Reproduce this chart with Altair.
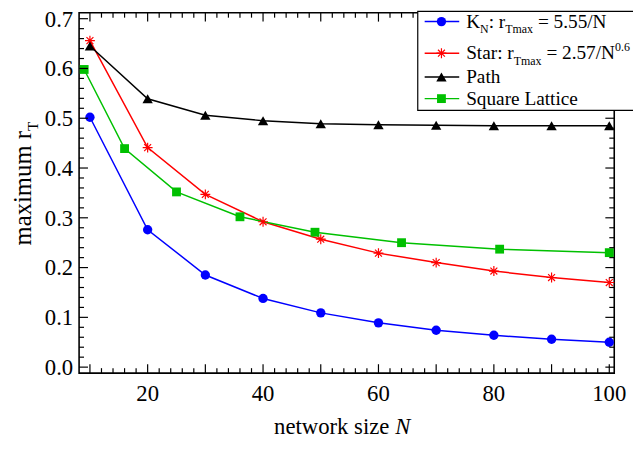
import altair as alt
import pandas as pd

# ---------------- data ----------------
series = ["K_N", "Star", "Path", "Square Lattice"]
colors = ["#0000FF", "#FF0000", "#000000", "#00C000"]

N_kn = [10, 20, 30, 40, 50, 60, 70, 80, 90, 100]
r_kn = [0.502, 0.276, 0.185, 0.138, 0.109, 0.089, 0.074, 0.064, 0.056, 0.050]

N_star = [10, 20, 30, 40, 50, 60, 70, 80, 90, 100]
r_star = [0.656, 0.441, 0.347, 0.292, 0.257, 0.229, 0.210, 0.193, 0.180, 0.170]

N_path = [10, 20, 30, 40, 50, 60, 70, 80, 90, 100]
r_path = [0.645, 0.539, 0.506, 0.495, 0.489, 0.487, 0.486, 0.485, 0.485, 0.485]

N_sq = [9, 16, 25, 36, 49, 64, 81, 100]
r_sq = [0.598, 0.439, 0.352, 0.302, 0.271, 0.250, 0.237, 0.230]

x_label_values = [20, 40, 60, 80, 100]
y_label_values = [0.0, 0.1, 0.2, 0.3, 0.4, 0.5, 0.6, 0.7]

# ---------------- layout ----------------
W, H = 542, 365
FONT = "Liberation Serif"
TICK_FS = 23
TITLE_FS = 23
YTITLE_FS = 25
LEG_FS = 19.5
SUB = 0.62

xs = alt.Scale(domain=[8.12, 100.86], nice=False, zero=False)
ys = alt.Scale(domain=[-0.012, 0.712], nice=False, zero=False)

df = pd.concat([
    pd.DataFrame({"N": N_kn, "r": r_kn, "s": series[0]}),
    pd.DataFrame({"N": N_star, "r": r_star, "s": series[1]}),
    pd.DataFrame({"N": N_path, "r": r_path, "s": series[2]}),
    pd.DataFrame({"N": N_sq, "r": r_sq, "s": series[3]}),
])

cscale = alt.Scale(domain=series, range=colors)

lines = alt.Chart(df).mark_line(strokeWidth=1.5).encode(
    x=alt.X("N:Q", scale=xs, axis=None),
    y=alt.Y("r:Q", scale=ys, axis=None),
    color=alt.Color("s:N", scale=cscale, legend=None),
    detail="s:N",
)

STAR = "M-1,0L1,0M0,-1L0,1M-0.7,-0.7L0.7,0.7M-0.7,0.7L0.7,-0.7"
shape_spec = {
    "K_N": dict(shape="circle", filled=True, size=90),
    "Star": dict(shape=STAR, filled=False, size=100, strokeWidth=1.2),
    "Path": dict(shape="triangle-up", filled=True, size=110),
    "Square Lattice": dict(shape="square", filled=True, size=80),
}

point_layers = []
for s, c in zip(series, colors):
    point_layers.append(
        alt.Chart(df[df.s == s]).mark_point(color=c, opacity=1, **shape_spec[s]).encode(
            x=alt.X("N:Q", scale=xs, axis=None),
            y=alt.Y("r:Q", scale=ys, axis=None),
        )
    )

# ---------------- tick labels ----------------
xl = pd.DataFrame({"v": x_label_values, "t": [str(v) for v in x_label_values]})
x_labels = alt.Chart(xl).mark_text(
    font=FONT, fontSize=TICK_FS, color="black", align="center", baseline="alphabetic"
).encode(x=alt.X("v:Q", scale=xs, axis=None), y=alt.value(H + 28), text="t:N")

yl = pd.DataFrame({"v": y_label_values, "t": [f"{v:.1f}" for v in y_label_values]})
y_labels = alt.Chart(yl).mark_text(
    font=FONT, fontSize=TICK_FS, color="black", align="right", baseline="alphabetic",
    dy=8
).encode(y=alt.Y("v:Q", scale=ys, axis=None), x=alt.value(-6), text="t:N")

# ---------------- inward ticks (mirrored) ----------------
xmaj = list(range(10, 101, 10))
xmin = [v for v in range(10, 101, 2) if v % 10 != 0]
ymaj = [round(v * 0.1, 2) for v in range(0, 8)]
ymin = [round(v * 0.02, 2) for v in range(0, 36) if v % 5 != 0]

MAJ, MIN = 9, 5
tick_layers = []
for vals, ln in ((xmaj, MAJ), (xmin, MIN)):
    d = pd.DataFrame({"v": vals})
    tick_layers.append(alt.Chart(d).mark_rule(color="black", strokeWidth=1.2).encode(
        x=alt.X("v:Q", scale=xs, axis=None), y=alt.value(H), y2=alt.value(H - ln)))
    tick_layers.append(alt.Chart(d).mark_rule(color="black", strokeWidth=1.2).encode(
        x=alt.X("v:Q", scale=xs, axis=None), y=alt.value(0), y2=alt.value(ln)))
for vals, ln in ((ymaj, MAJ), (ymin, MIN)):
    d = pd.DataFrame({"v": vals})
    tick_layers.append(alt.Chart(d).mark_rule(color="black", strokeWidth=1.2).encode(
        y=alt.Y("v:Q", scale=ys, axis=None), x=alt.value(0), x2=alt.value(ln)))
    tick_layers.append(alt.Chart(d).mark_rule(color="black", strokeWidth=1.2).encode(
        y=alt.Y("v:Q", scale=ys, axis=None), x=alt.value(W), x2=alt.value(W - ln)))

# ---------------- text helpers ----------------
TW = {' ': 250, ':': 278, '=': 564, '.': 250, '/': 278, 'K': 722, 'N': 722, 'S': 556,
      'T': 611, 'P': 556, 'L': 611, 'a': 444, 'c': 444, 'e': 444, 'i': 278, 'm': 778,
      'n': 500, 'o': 500, 'p': 500, 'q': 500, 'r': 333, 's': 389, 't': 278, 'u': 500,
      'w': 722, 'x': 500, 'y': 500, 'z': 444, 'k': 500, 'h': 500}


def tw(txt, fs):
    return sum(TW.get(ch, 500) for ch in txt) / 1000.0 * fs


def rich(pieces, x0, y0, fs, angle=0):
    out = []
    pos = 0.0
    sfs = fs * SUB
    for txt, kind in pieces:
        size = sfs if kind in ("sub", "sup") else fs
        shift = fs * 0.28 if kind == "sub" else (-fs * 0.42 if kind == "sup" else 0)
        lead = len(txt) - len(txt.lstrip(" "))
        pos += tw(" " * lead, size)
        body = txt.strip(" ")
        if angle == 0:
            out.append(dict(t=body, x=x0 + pos, y=y0 + shift, fs=size,
                            ital=kind == "ital"))
        else:
            out.append(dict(t=body, x=x0 + shift, y=y0 - pos, fs=size,
                            ital=kind == "ital"))
        w = tw(txt.lstrip(" "), size)
        if kind == "ital" and body == "N":
            w = 0.667 * size
        pos += w
    return out


def text_layer(rows, angle=0):
    d = pd.DataFrame(rows)
    layers = []
    for ital in (False, True):
        dd = d[d.ital == ital]
        if len(dd) == 0:
            continue
        kw = dict(align="left", baseline="alphabetic", font=FONT, color="black")
        if angle:
            kw["angle"] = angle
        if ital:
            kw["fontStyle"] = "italic"
        layers.append(alt.Chart(dd).mark_text(**kw).encode(
            text="t:N",
            x=alt.X("x:Q", scale=None, axis=None),
            y=alt.Y("y:Q", scale=None, axis=None),
            size=alt.Size("fs:Q", scale=None, legend=None),
        ))
    return layers

# ---------------- legend ----------------
row_y = [9, 41, 65, 87]
LX1, LX2, LMX, LTX = 350, 385, 367, 392

leg_box = alt.Chart(pd.DataFrame({"a": [0]})).mark_rect(
    fill="white", stroke="black", strokeWidth=1.2).encode(
    x=alt.value(343), x2=alt.value(620), y=alt.value(-1.3), y2=alt.value(99))

leg_df = pd.DataFrame({"s": series, "ly": row_y})
leg_lines = alt.Chart(leg_df).mark_rule(strokeWidth=1.5).encode(
    x=alt.value(LX1), x2=alt.value(LX2),
    y=alt.Y("ly:Q", scale=None, axis=None),
    color=alt.Color("s:N", scale=cscale, legend=None))
leg_pts = []
for s, c in zip(series, colors):
    leg_pts.append(alt.Chart(leg_df[leg_df.s == s]).mark_point(
        color=c, opacity=1, **shape_spec[s]).encode(
        x=alt.value(LMX), y=alt.Y("ly:Q", scale=None, axis=None)))

leg_rows = []
leg_rows += rich([("K", "main"), ("N", "sub"), (": r", "main"), ("Tmax", "sub"),
                  (" = 5.55/N", "main")], LTX, row_y[0] + 6, LEG_FS)
leg_rows += rich([("Star: r", "main"), ("Tmax", "sub"), (" = 2.57/N", "main"),
                  ("0.6", "sup")], LTX, row_y[1] + 6, LEG_FS)
leg_rows += rich([("Path", "main")], LTX, row_y[2] + 6, LEG_FS)
leg_rows += rich([("Square Lattice", "main")], LTX, row_y[3] + 6, LEG_FS)

# ---------------- axis titles ----------------
xt_pieces = [("network size ", "main"), ("N", "ital")]
xt_w = tw("network size ", TITLE_FS) + 0.667 * TITLE_FS
xt_rows = rich(xt_pieces, 266.5 - xt_w / 2, 427, TITLE_FS)

yt_pieces = [("maximum r", "main"), ("T", "sub")]
yt_w = tw("maximum r", YTITLE_FS) + tw("T", YTITLE_FS * SUB)
yt_rows = rich(yt_pieces, -49, 173 + yt_w / 2, YTITLE_FS, angle=270)

layers = [lines] + point_layers + tick_layers + [x_labels, y_labels, leg_box, leg_lines]
layers += leg_pts
layers += text_layer(leg_rows) + text_layer(xt_rows) + text_layer(yt_rows, angle=270)

chart = alt.layer(*layers).properties(
    width=W, height=H,
    padding={"left": 72, "top": 2, "right": 19, "bottom": 67},
    autosize="none",
    background="white",
).configure_view(stroke="black", strokeWidth=1.6)

chart.save("out.html", embed_options={"renderer": "svg", "actions": False})
